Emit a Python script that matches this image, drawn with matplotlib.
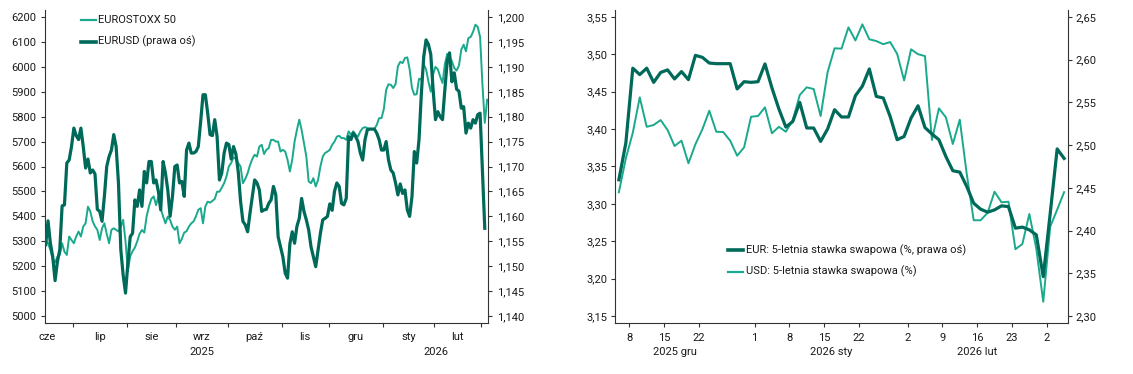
import numpy as np
import pandas as pd
import matplotlib
matplotlib.use("Agg")
import matplotlib.pyplot as plt
from matplotlib.lines import Line2D
from matplotlib.ticker import FuncFormatter

plt.rcParams['font.family'] = ['Roboto', 'DejaVu Sans']

# ---------------- data ----------------
left_start, left_end = '2025-06-13', '2026-03-04'
left_months = ['cze', 'lip', 'sie', 'wrz', 'paź', 'lis', 'gru', 'sty', 'lut']
left_month_starts = ['2025-06-01', '2025-07-01', '2025-08-01', '2025-09-01', '2025-10-01',
                     '2025-11-01', '2025-12-01', '2026-01-01', '2026-02-01', '2026-03-01']
left_years = ['2025', '2026']

eurostoxx = [
    5305, 5292, 5265, 5230, 5215, 5238, 5245, 5292, 5258, 5245,
    5319, 5305, 5292, 5319, 5339, 5319, 5359, 5372, 5439, 5420,
    5380, 5360, 5346, 5305, 5352, 5372, 5330, 5292, 5346, 5352,
    5346, 5339, 5359, 5386, 5300, 5180, 5240, 5260, 5275, 5300,
    5330, 5345, 5335, 5400, 5440, 5470, 5480, 5445, 5480, 5430,
    5400, 5372, 5399, 5385, 5359, 5346, 5359, 5292, 5310, 5335,
    5340, 5359, 5372, 5380, 5400, 5426, 5433, 5372, 5440, 5459,
    5455, 5462, 5470, 5499, 5499, 5515, 5533, 5560, 5600, 5614,
    5637, 5630, 5614, 5600, 5533, 5550, 5573, 5605, 5630, 5647,
    5640, 5680, 5687, 5650, 5667, 5674, 5707, 5707, 5700, 5700,
    5660, 5667, 5660, 5627, 5580, 5627, 5700, 5747, 5788, 5747,
    5694, 5640, 5540, 5533, 5553, 5520, 5546, 5600, 5640, 5654,
    5660, 5667, 5687, 5700, 5720, 5723, 5714, 5714, 5707, 5741,
    5727, 5741, 5727, 5720, 5741, 5754, 5758, 5754, 5751, 5751,
    5751, 5767, 5794, 5794, 5830, 5908, 5930, 5928, 5915, 5930,
    6002, 6020, 6015, 6035, 6038, 5990, 5915, 5888, 5890, 5952,
    5948, 6010, 5990, 5941, 5900, 5970, 6000, 5990, 5961, 5935,
    6010, 6052, 6040, 6022, 5995, 5985, 6005, 6069, 6089, 6062,
    6115, 6120, 6140, 6169, 6160, 6120, 5930, 5775, 5868,
]

eurusd = [
    1.1543, 1.1591, 1.1546, 1.1519, 1.1471, 1.1509, 1.1533, 1.1621, 1.1623, 1.1707,
    1.1713, 1.1740, 1.1777, 1.1762, 1.1754, 1.1777, 1.1740, 1.1697, 1.1715, 1.1687,
    1.1693, 1.1685, 1.1614, 1.1610, 1.1590, 1.1640, 1.1700, 1.1720, 1.1733, 1.1764,
    1.1740, 1.1667, 1.1533, 1.1482, 1.1446, 1.1506, 1.1559, 1.1566, 1.1633, 1.1620,
    1.1653, 1.1620, 1.1690, 1.1667, 1.1710, 1.1710, 1.1667, 1.1673, 1.1650, 1.1613,
    1.1710, 1.1687, 1.1653, 1.1600, 1.1640, 1.1700, 1.1703, 1.1667, 1.1670, 1.1640,
    1.1733, 1.1747, 1.1727, 1.1727, 1.1730, 1.1740, 1.1790, 1.1844, 1.1844, 1.1807,
    1.1764, 1.1762, 1.1794, 1.1760, 1.1673, 1.1687, 1.1727, 1.1747, 1.1744, 1.1715,
    1.1740, 1.1725, 1.1690, 1.1630, 1.1590, 1.1583, 1.1569, 1.1606, 1.1640, 1.1673,
    1.1667, 1.1653, 1.1610, 1.1613, 1.1614, 1.1626, 1.1633, 1.1660, 1.1643, 1.1559,
    1.1539, 1.1519, 1.1486, 1.1476, 1.1545, 1.1569, 1.1546, 1.1580, 1.1596, 1.1636,
    1.1610, 1.1593, 1.1573, 1.1539, 1.1519, 1.1499, 1.1533, 1.1566, 1.1593, 1.1596,
    1.1600, 1.1625, 1.1612, 1.1650, 1.1667, 1.1660, 1.1626, 1.1623, 1.1636, 1.1760,
    1.1754, 1.1767, 1.1760, 1.1750, 1.1727, 1.1713, 1.1754, 1.1774, 1.1775, 1.1775,
    1.1775, 1.1767, 1.1754, 1.1733, 1.1733, 1.1750, 1.1713, 1.1693, 1.1687, 1.1667,
    1.1643, 1.1665, 1.1646, 1.1653, 1.1613, 1.1600, 1.1640, 1.1730, 1.1707, 1.1754,
    1.1847, 1.1920, 1.1954, 1.1945, 1.1925, 1.1854, 1.1794, 1.1810, 1.1800, 1.1794,
    1.1854, 1.1911, 1.1928, 1.1870, 1.1888, 1.1855, 1.1851, 1.1817, 1.1820, 1.1767,
    1.1787, 1.1777, 1.1794, 1.1787, 1.1804, 1.1807, 1.1690, 1.1576, np.nan,
]

right_start, right_end = '2025-12-04', '2026-03-04'
right_tick_dates = ['2025-12-08', '2025-12-15', '2025-12-22', '2026-01-01', '2026-01-08',
                    '2026-01-15', '2026-01-22', '2026-02-02', '2026-02-09', '2026-02-16',
                    '2026-02-23', '2026-03-02']
right_tick_labels = ['8', '15', '22', '1', '8', '15', '22', '2', '9', '16', '23', '2']
right_months = ['2025 gru', '2026 sty', '2026 lut']
right_month_starts = ['2025-12-01', '2026-01-01', '2026-02-02', '2026-03-02']

eur_swap = [
    2.4594, 2.5024, 2.5900, 2.5825, 2.5900, 2.5734, 2.5850, 2.5880, 2.5774, 2.5860,
    2.5766, 2.6050, 2.6027, 2.5960, 2.5953, 2.5953, 2.5953, 2.5657, 2.5742, 2.5734,
    2.5742, 2.5950, 2.5669, 2.5423, 2.5211, 2.5277, 2.5500, 2.5200, 2.5200, 2.5043,
    2.5188, 2.5414, 2.5329, 2.5329, 2.5578, 2.5690, 2.5891, 2.5570, 2.5551, 2.5333,
    2.5063, 2.5101, 2.5317, 2.5460, 2.5205, 2.5130, 2.5063, 2.4867, 2.4700, 2.4684,
    2.4516, 2.4320, 2.4250, 2.4215, 2.4242, 2.4289, 2.4280, 2.4028, 2.4040, 2.4008,
    2.3950, 2.3460, 2.4200, 2.4955, 2.4844,
]
usd_swap = [
    3.3154, 3.3608, 3.3950, 3.4424, 3.4030, 3.4054, 3.4120, 3.3987, 3.3773, 3.3844,
    3.3542, 3.3796, 3.3996, 3.4245, 3.3964, 3.3960, 3.3844, 3.3643, 3.3755, 3.4165,
    3.4174, 3.4290, 3.3943, 3.4030, 3.3964, 3.4120, 3.4455, 3.4558, 3.4535, 3.4174,
    3.4760, 3.5080, 3.5075, 3.5360, 3.5185, 3.5400, 3.5200, 3.5177, 3.5135, 3.5163,
    3.5005, 3.4650, 3.5066, 3.5001, 3.4976, 3.3853, 3.4277, 3.4157, 3.3800, 3.4125,
    3.3400, 3.2780, 3.2780, 3.2880, 3.3162, 3.3020, 3.3028, 3.2392, 3.2463, 3.2864,
    3.2400, 3.1690, 3.2694, 3.2922, 3.3156,
]

# ---------------- style ----------------
LIGHT = '#1aa98c'
DARK = '#006a5a'
TXT = '#1a1a1a'
SPINE = '#333333'
FS = 8

W, H = 1133, 374
fig = plt.figure(figsize=(W / 100, H / 100), dpi=100)


def fx(px):
    return px / W


def fy(py):
    return 1 - py / H


def style_axes(ax_l, ax_r):
    for a in (ax_l, ax_r):
        a.spines['top'].set_visible(False)
        for s in a.spines.values():
            s.set_color(SPINE)
            s.set_linewidth(0.8)
    ax_r.spines['left'].set_visible(False)
    ax_r.spines['bottom'].set_visible(False)
    ax_l.spines['right'].set_visible(False)
    ax_l.tick_params(axis='y', direction='out', length=3, width=0.8, pad=3,
                     labelsize=FS, colors=SPINE, labelcolor=TXT)
    ax_r.tick_params(axis='y', direction='out', length=3, width=0.8, pad=3,
                     labelsize=FS, colors=SPINE, labelcolor=TXT)
    ax_l.tick_params(axis='x', direction='out', length=3, width=0.8,
                     labelsize=FS, colors=SPINE, labelcolor=TXT)


def comma(fmt):
    return FuncFormatter(lambda v, _: format(v, fmt).replace('.', ','))


# ---------------- left chart ----------------
bottom = fy(323)
height = (323 - 10) / H
axL = fig.add_axes([fx(44.5), bottom, fx(488.3 - 44.5), height])
axL2 = axL.twinx()

ldates = pd.bdate_range(left_start, left_end)
lx = np.arange(len(ldates))
axL.plot(lx, eurostoxx, color=LIGHT, lw=1.4, solid_joinstyle='round', zorder=2)
axL2.plot(lx, eurusd, color=DARK, lw=2.3, solid_joinstyle='round', zorder=3)

axL.set_xlim(-0.5, len(ldates) - 0.5)
axL.set_ylim(4972, 6228)
axL2.set_ylim(1.1386, 1.2014)
axL.set_yticks(np.arange(5000, 6201, 100))
axL2.set_yticks(np.arange(1.140, 1.2001, 0.005))
axL.yaxis.set_major_formatter(comma('.0f'))
axL2.yaxis.set_major_formatter(comma('.3f'))
style_axes(axL, axL2)

k = [int(np.busday_count(left_start, d)) for d in left_month_starts]
tick_pos = [kk - 0.5 for kk in k[1:]]
axL.set_xticks(tick_pos)
axL.set_xticklabels([''] * len(tick_pos))
jan_pos = int(np.busday_count(left_start, '2026-01-01')) - 0.5
axL.set_xticks([jan_pos], minor=True)
axL.tick_params(axis='x', which='minor', length=6, width=0.8, colors=SPINE)
xt = axL.get_xaxis_transform()
for i, lab in enumerate(left_months):
    c = (k[i] + k[i + 1]) / 2 - 0.5
    axL.text(c, -(337 - 323) / 313, lab, transform=xt, ha='center', va='center',
             fontsize=FS, color=TXT)
y25 = (k[0] + jan_pos + 0.5) / 2 - 0.5
y26 = (jan_pos + len(ldates) - 0.5) / 2
axL.text(y25, -(352 - 323) / 313, left_years[0], transform=xt, ha='center',
         va='center', fontsize=FS, color=TXT)
axL.text(y26, -(352 - 323) / 313, left_years[1], transform=xt, ha='center',
         va='center', fontsize=FS, color=TXT)

# legend (left)
for yy, col, lw, lab in [(20, LIGHT, 1.6, 'EUROSTOXX 50'), (41.5, DARK, 2.6, 'EURUSD (prawa oś)')]:
    fig.add_artist(Line2D([fx(81), fx(96)], [fy(yy), fy(yy)], color=col, lw=lw,
                          transform=fig.transFigure))
    fig.text(fx(98), fy(yy), lab, ha='left', va='center', fontsize=FS, color=TXT)

# ---------------- right chart ----------------
axR = fig.add_axes([fx(615.4), bottom, fx(1067.6 - 615.4), height])
axR2 = axR.twinx()
rdates = pd.bdate_range(right_start, right_end)
rx = np.arange(len(rdates))
axR.plot(rx, usd_swap, color=LIGHT, lw=1.4, solid_joinstyle='round', zorder=2)
axR2.plot(rx, eur_swap, color=DARK, lw=2.3, solid_joinstyle='round', zorder=3)
axR.set_xlim(-0.5, len(rdates) - 0.5)
axR.set_ylim(3.1406, 3.5592)
axR2.set_ylim(2.2918, 2.6581)
axR.set_yticks(np.arange(3.15, 3.5501, 0.05))
axR2.set_yticks(np.arange(2.30, 2.6501, 0.05))
axR.yaxis.set_major_formatter(comma('.2f'))
axR2.yaxis.set_major_formatter(comma('.2f'))
style_axes(axR, axR2)

rk = [int(np.busday_count(right_start, d)) - 0.5 for d in right_tick_dates]
axR.set_xticks(rk)
axR.set_xticklabels(right_tick_labels)
axR.tick_params(axis='x', pad=4)
rm = [int(np.busday_count(right_start, d)) for d in right_month_starts]
xtr = axR.get_xaxis_transform()
for i, lab in enumerate(right_months):
    c = (rm[i] + rm[i + 1]) / 2 - 0.5
    axR.text(c, -(352 - 323) / 313, lab, transform=xtr, ha='center', va='center',
             fontsize=FS, color=TXT)

# legend (right)
for yy, col, lw, lab in [(250, DARK, 2.6, 'EUR: 5-letnia stawka swapowa (%, prawa oś)'),
                         (271.5, LIGHT, 1.6, 'USD: 5-letnia stawka swapowa (%)')]:
    fig.add_artist(Line2D([fx(728), fx(743)], [fy(yy), fy(yy)], color=col, lw=lw,
                          transform=fig.transFigure))
    fig.text(fx(746), fy(yy), lab, ha='left', va='center', fontsize=FS, color=TXT)

fig.savefig('out.png', dpi=100, facecolor='white')
